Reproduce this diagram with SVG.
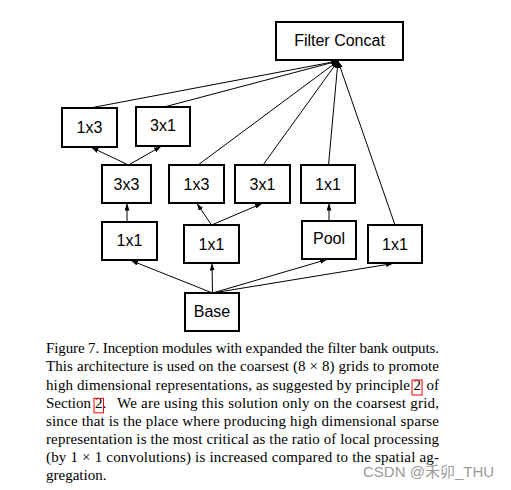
<svg xmlns="http://www.w3.org/2000/svg" width="511" height="490" viewBox="0 0 511 490">
<style>
.box{fill:#fff;stroke:#000;stroke-width:2}
.lbl{font-family:"Liberation Sans",Arial,sans-serif;font-size:16px;fill:#000;text-anchor:middle}
.edge{stroke:#000;stroke-width:1;fill:none;marker-end:url(#ah)}
.cap{font-family:"Liberation Serif","Times New Roman",serif;font-size:15px;fill:#000}
.ref{fill:none;stroke:#ff0000;stroke-width:1}
.wm{font-family:"Liberation Sans","Noto Sans CJK SC",sans-serif;font-size:15px;fill:#9a9a9a}
</style>
<defs>
<marker id="ah" markerUnits="userSpaceOnUse" markerWidth="8" markerHeight="6" refX="7" refY="2.5" orient="auto">
<path d="M0,0 L7,2.5 L0,5 z" fill="#000"/>
</marker>
</defs>
<rect width="511" height="490" fill="#fff"/>
<g id="connectors">
<line class="edge" x1="90" y1="108" x2="338" y2="61"/>
<line class="edge" x1="164" y1="107" x2="338" y2="61"/>
<line class="edge" x1="198" y1="165" x2="338" y2="61"/>
<line class="edge" x1="263" y1="165" x2="338" y2="61"/>
<line class="edge" x1="328.5" y1="165" x2="338" y2="61"/>
<line class="edge" x1="395" y1="225" x2="338" y2="61"/>
<line class="edge" x1="128.5" y1="165" x2="91.5" y2="147.5"/>
<line class="edge" x1="128.5" y1="165" x2="161" y2="146.5"/>
<line class="edge" x1="127" y1="222" x2="127" y2="203.5"/>
<line class="edge" x1="211.5" y1="225" x2="197" y2="203.5"/>
<line class="edge" x1="211.5" y1="225" x2="262" y2="203.5"/>
<line class="edge" x1="329" y1="221" x2="329" y2="203.5"/>
<line class="edge" x1="212.5" y1="293" x2="131" y2="260.5"/>
<line class="edge" x1="212.5" y1="293" x2="212" y2="263.5"/>
<line class="edge" x1="212.5" y1="293" x2="327" y2="259.5"/>
<line class="edge" x1="212.5" y1="293" x2="393" y2="263.5"/>
</g>
<g id="filter-concat"><rect class="box" x="276" y="22" width="127" height="38"/><text class="lbl" x="339.5" y="46">Filter Concat</text></g>
<g id="top-1x3"><rect class="box" x="62" y="108" width="55" height="39"/><text class="lbl" x="89.5" y="132.5">1x3</text></g>
<g id="top-3x1"><rect class="box" x="136" y="107" width="54" height="39"/><text class="lbl" x="163" y="131">3x1</text></g>
<g id="mid-3x3"><rect class="box" x="102" y="165" width="49" height="38"/><text class="lbl" x="126.5" y="189.5">3x3</text></g>
<g id="mid-1x3"><rect class="box" x="169" y="165" width="55" height="38"/><text class="lbl" x="196.5" y="189.5">1x3</text></g>
<g id="mid-3x1"><rect class="box" x="235" y="165" width="55" height="38"/><text class="lbl" x="262.5" y="189.5">3x1</text></g>
<g id="mid-1x1"><rect class="box" x="301" y="165" width="54" height="38"/><text class="lbl" x="328" y="189.5">1x1</text></g>
<g id="low-1x1-a"><rect class="box" x="102" y="222" width="55" height="38"/><text class="lbl" x="129.5" y="246">1x1</text></g>
<g id="low-1x1-b"><rect class="box" x="184" y="225" width="55" height="38"/><text class="lbl" x="211.5" y="250">1x1</text></g>
<g id="pool"><rect class="box" x="302" y="221" width="54" height="38"/><text class="lbl" x="329" y="243.5">Pool</text></g>
<g id="low-1x1-c"><rect class="box" x="368" y="225" width="54" height="38"/><text class="lbl" x="395" y="249.5">1x1</text></g>
<g id="base"><rect class="box" x="185" y="293" width="54" height="38"/><text class="lbl" x="212" y="316.5">Base</text></g>
<g id="caption">
<text class="cap" x="46" y="353.3" textLength="393" lengthAdjust="spacing">Figure 7. Inception modules with expanded the filter bank outputs.</text>
<text class="cap" x="46" y="371.4" textLength="393" lengthAdjust="spacing">This architecture is used on the coarsest (8 × 8) grids to promote</text>
<text class="cap" x="46" y="389.5" textLength="364" lengthAdjust="spacing">high dimensional representations, as suggested by principle</text>
<text class="cap" x="413.5" y="389.5">2</text>
<text class="cap" x="439" y="389.5" text-anchor="end">of</text>
<rect class="ref" x="412" y="380" width="10" height="15"/>
<text class="cap" x="46" y="407.6">Section</text>
<text class="cap" x="95" y="407.6">2</text>
<text class="cap" x="102.6" y="407.6">.</text>
<text class="cap" x="117" y="407.6" textLength="322" lengthAdjust="spacing">We are using this solution only on the coarsest grid,</text>
<rect class="ref" x="94" y="398.3" width="9.5" height="14.5"/>
<text class="cap" x="46" y="425.7" textLength="393" lengthAdjust="spacing">since that is the place where producing high dimensional sparse</text>
<text class="cap" x="46" y="443.8" textLength="393" lengthAdjust="spacing">representation is the most critical as the ratio of local processing</text>
<text class="cap" x="46" y="461.9" textLength="393" lengthAdjust="spacing">(by 1 × 1 convolutions) is increased compared to the spatial ag-</text>
<text class="cap" x="46" y="480">gregation.</text>
</g>
<text class="wm" x="363" y="477">CSDN @禾卯_THU</text>
</svg>
